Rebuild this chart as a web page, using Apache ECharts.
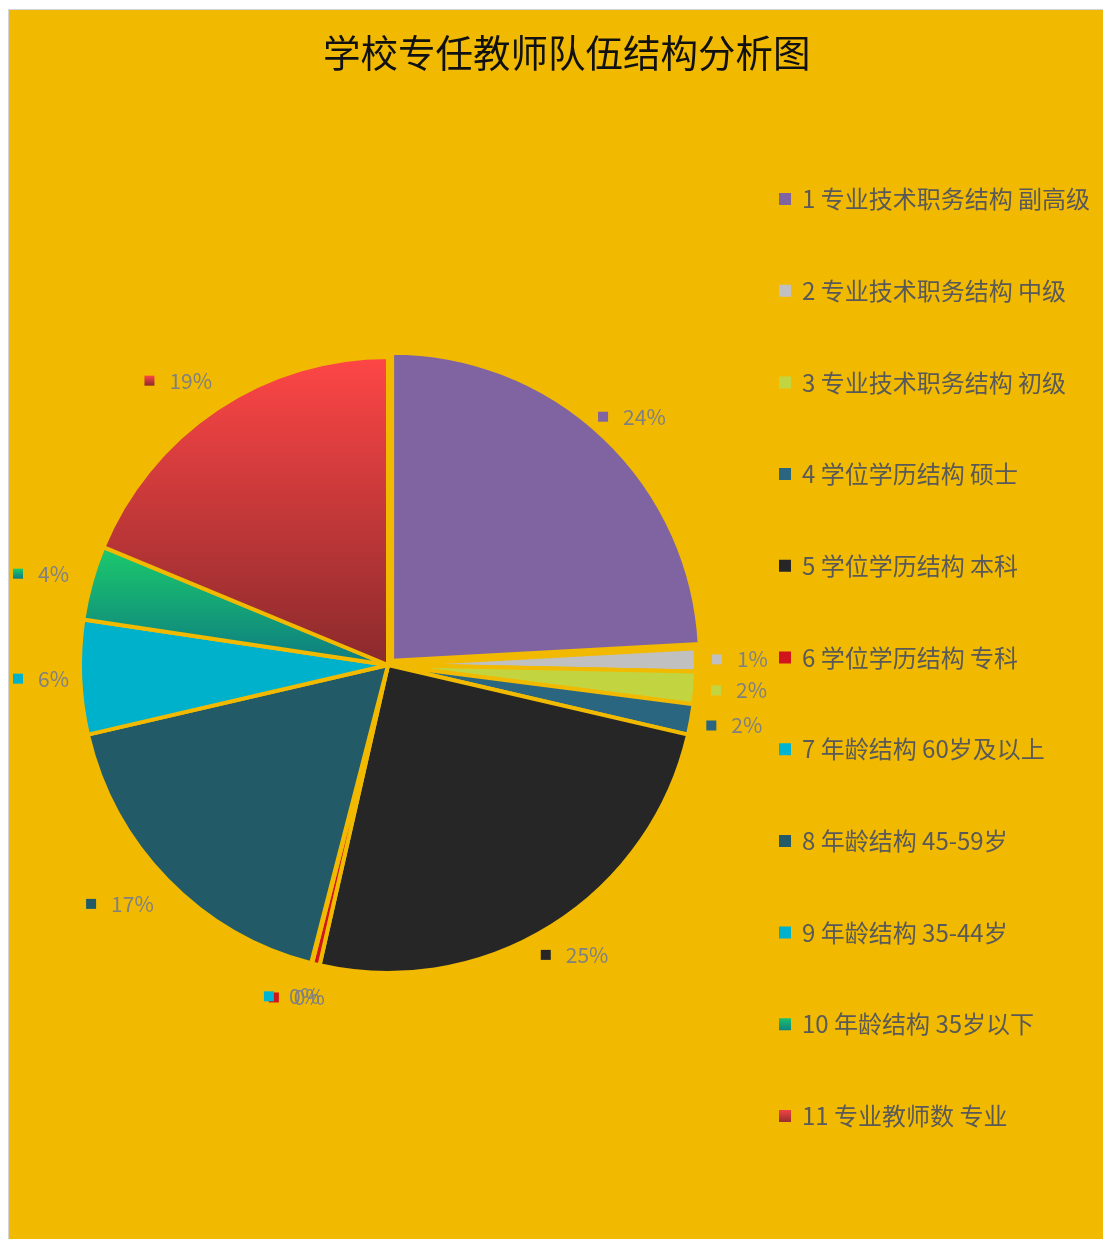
<!DOCTYPE html>
<html>
<head>
<meta charset="utf-8">
<script src="https://cdn.jsdelivr.net/npm/echarts@6/dist/echarts.min.js"></script>
<style>
html,body{margin:0;padding:0;background:#fff;width:1103px;height:1239px;overflow:hidden;}
#c{position:absolute;left:8px;top:9px;width:1094px;height:1229px;border-left:1px solid #d4d4d4;border-top:1px solid #d4d4d4;background:#F1BA00;}
</style>
</head>
<body>
<div id="c"></div>
<script>
const titleText = '学校专任教师队伍结构分析图';
const categories = [
  '1 专业技术职务结构 副高级',
  '2 专业技术职务结构 中级',
  '3 专业技术职务结构 初级',
  '4 学位学历结构 硕士',
  '5 学位学历结构 本科',
  '6 学位学历结构 专科',
  '7 年龄结构 60岁及以上',
  '8 年龄结构 45-59岁',
  '9 年龄结构 35-44岁',
  '10 年龄结构 35岁以下',
  '11 专业教师数 专业'
];
const values = [24.2, 1.2, 1.7, 1.6, 25.0, 0.4, 0.05, 17.4, 6.0, 3.9, 18.8];

const G = echarts.graphic;
const colors = [
  '#8064A2',
  '#C0C0C0',
  '#C2D540',
  '#2A6680',
  '#262626',
  '#D0151C',
  '#00B4D4',
  '#225A68',
  '#00B1CB',
  new G.LinearGradient(0, 0, 0, 1, [{offset: 0, color: '#1CCB6B'}, {offset: 1, color: '#0D7A82'}]),
  new G.LinearGradient(0, 0, 0, 1, [{offset: 0, color: '#FF4646'}, {offset: 1, color: '#8A2A2C'}])
];

const rich = {t: {color: '#808080', fontSize: 21, fontFamily: 'Noto Sans CJK SC', padding: [0, 0, 0, 15]}};
colors.forEach((c, i) => { rich['m' + i] = {width: 10, height: 10, backgroundColor: c}; });

const pieData = categories.map((n, i) => ({
  name: n,
  value: values[i],
  selected: i === 0,
  itemStyle: {color: colors[i]}
}));
const labelData = categories.map((n, i) => ({name: n, value: values[i]}));

const CX = 379, CY = 655, R = 308;

const chart = echarts.init(document.getElementById('c'));
chart.setOption({
  backgroundColor: '#F1BA00',
  animation: false,
  title: {
    text: titleText,
    left: 309,
    top: 19,
    textStyle: {fontSize: 37.5, fontWeight: 'normal', color: '#111', fontFamily: 'Noto Sans CJK SC'}
  },
  legend: {
    orient: 'vertical',
    left: 768,
    top: 177,
    padding: 0,
    itemWidth: 14,
    itemHeight: 14,
    itemGap: 67.7,
    icon: 'rect',
    textStyle: {fontSize: 24, color: '#595959', fontFamily: 'Noto Sans CJK SC', padding: [0, 0, 0, 5]},
    data: categories
  },
  series: [{
    type: 'pie',
    center: [CX, CY],
    radius: R,
    startAngle: 90,
    clockwise: true,
    selectedMode: 'multiple',
    selectedOffset: 6,
    itemStyle: {borderColor: '#F1BA00', borderWidth: 4},
    label: {show: false},
    labelLine: {show: false},
    emphasis: {disabled: true},
    data: pieData
  }, {
    // transparent copy: gives each slice's mid-angle label anchor; labels are then
    // pushed so their box sits outside the pie edge (like "outside end" labels)
    type: 'pie',
    center: [CX, CY],
    radius: 700,
    startAngle: 90,
    clockwise: true,
    silent: true,
    z: 3,
    itemStyle: {color: 'rgba(0,0,0,0)', borderWidth: 0},
    label: {
      show: true,
      position: 'inside',
      formatter: p => '{m' + p.dataIndex + '|}{t|' + Math.round(p.percent) + '%}',
      rich: rich
    },
    labelLine: {show: false},
    labelLayout: function (p) {
      const lr = p.labelRect;
      const mx = lr.x + lr.width / 2, my = lr.y + lr.height / 2;
      const dx = mx - CX, dy = my - CY;
      const d = Math.sqrt(dx * dx + dy * dy) || 1;
      const ux = dx / d, uy = dy / d;
      const hw = lr.width / 2;
      let x = CX - 7 + (R + 23 + hw) * ux;
      x = Math.max(x, 4 + hw);
      const y = CY + (R + 34) * uy;
      return {x: x, y: y, align: 'center', verticalAlign: 'middle'};
    },
    emphasis: {disabled: true},
    data: labelData
  }]
});
</script>
</body>
</html>
